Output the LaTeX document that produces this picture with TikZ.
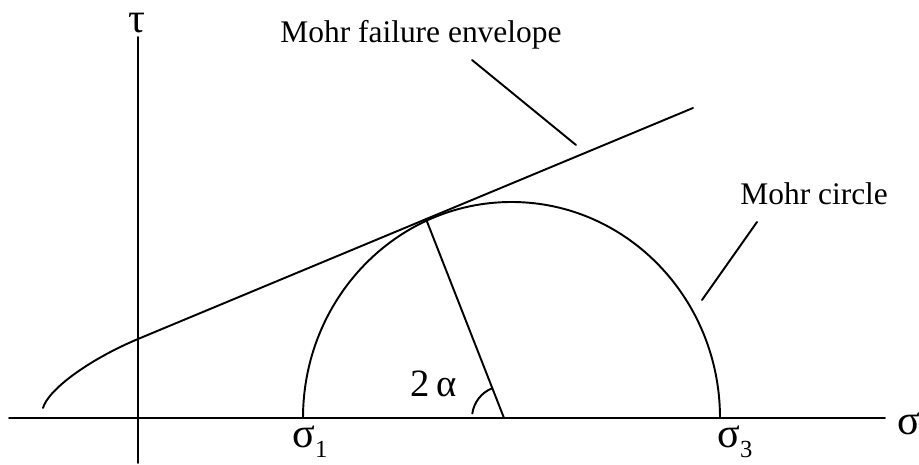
\documentclass[tikz,border=0pt]{standalone}
\usepackage{fontspec}
\setmainfont{Liberation Serif}
\usetikzlibrary{positioning}
\newcommand{\lowsub}[1]{\raisebox{-0.22em}{\fontsize{14}{14}\selectfont #1}}

\begin{document}
\begin{tikzpicture}[
  x=0.02cm, y=0.02cm,
  ln/.style={line width=1.1pt, line cap=round},
  lbl/.style={font=\fontsize{17.9}{20}\selectfont, inner sep=0pt, anchor=base west},
  greek/.style={font=\fontsize{24}{26}\selectfont, inner sep=0pt, anchor=base west}
]
  \useasboundingbox (0,0) rectangle (919,465);
  \coordinate (sL) at (9,47);
  \coordinate (sR) at (885,47);
  \coordinate (tB) at (138,2);
  \coordinate (tT) at (138,428);
  \coordinate (c)  at (511.5,47);
  \coordinate (t)  at (426,246);
  \coordinate (f)  at (504,47);
  \coordinate (e0) at (43,57);
  \coordinate (a)  at (138,126);
  \coordinate (e1) at (693,357);
  \coordinate (p1) at (472,405);
  \coordinate (p2) at (576,320);
  \coordinate (q1) at (757,243);
  \coordinate (q2) at (702,165);
  \node[greek] (tau) at (128,432) {τ};
  \node[greek] (sig) at (897,30) {σ};
  \node[greek] (s1) at (292,17) {σ\lowsub{1}};
  \node[greek] (s3) at (717,17) {σ\lowsub{3}};
  \node[lbl, font=\fontsize{22}{24}\selectfont] (ang) at (410,68) {2\,α};
  \node[lbl] (env) at (280,422) {Mohr failure envelope};
  \node[lbl] (mc) at (740,260) {Mohr circle};
  \draw[ln] (sL) -- (sR);
  \draw[ln] (tB) -- (tT);
  \draw[ln] (c) ++(208.5,0) arc[start angle=0, end angle=180, x radius=208.5, y radius=216];
  \draw[ln] (e0) .. controls (48,75) and (88,105) .. (a) -- (e1);
  \draw[ln] (t) -- (f);
  \draw[ln] (f) ++(172:32) arc[start angle=172, end angle=111.4, radius=32];
  \draw[ln] (p1) -- (p2);
  \draw[ln] (q1) -- (q2);
\end{tikzpicture}
\end{document}
